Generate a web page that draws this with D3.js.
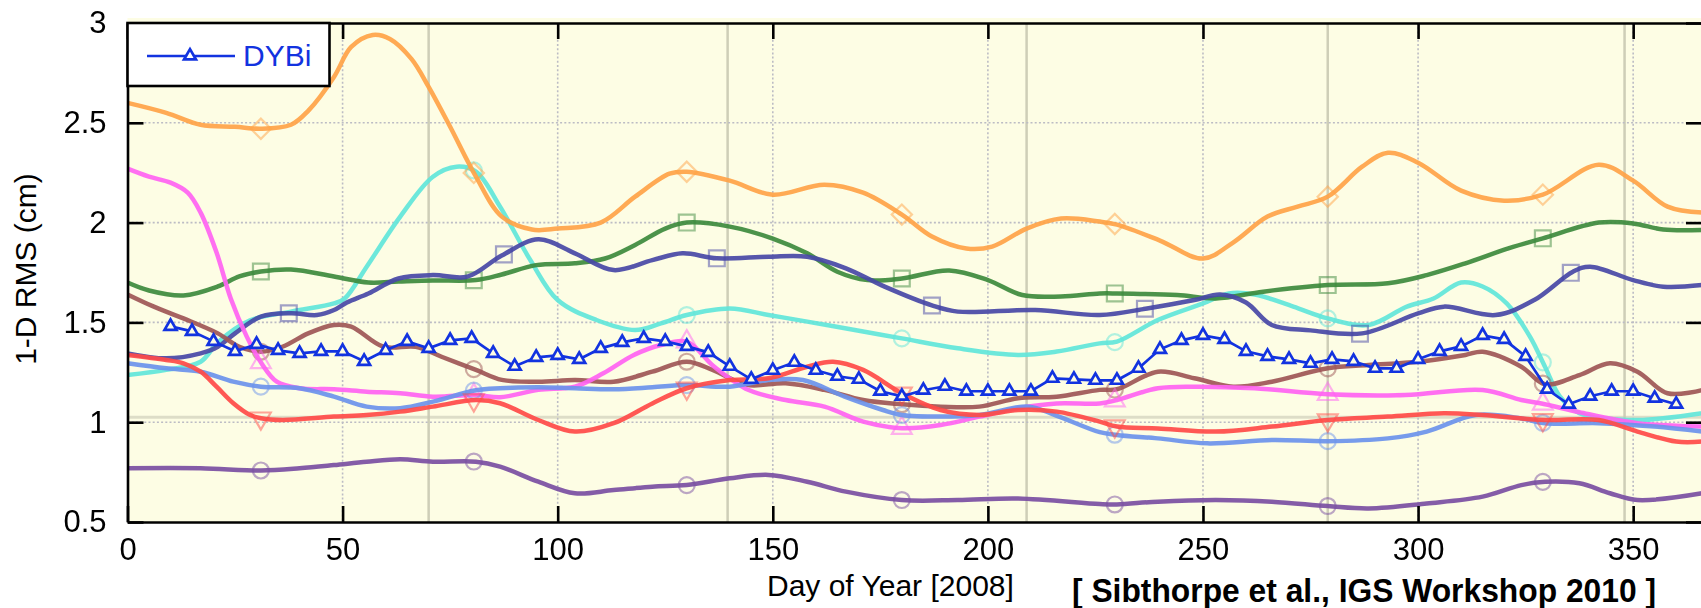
<!DOCTYPE html>
<html>
<head>
<meta charset="utf-8">
<script src="https://cdn.jsdelivr.net/npm/d3@7"></script>
<style>
body { margin: 0; background: #fff; }
svg { display: block; font-family: "Liberation Sans", Arial, Helvetica, sans-serif; }
</style>
</head>
<body>
<svg id="chart" width="1701" height="608"></svg>
<script>
(function () {

// ---- data ---------------------------------------------------------------------------------

var xTicks = [0, 50, 100, 150, 200, 250, 300, 350];
var yTicks = [0.5, 1, 1.5, 2, 2.5, 3];
var solidDays = [70, 139.5, 209, 279, 348];          // the grey vertical bars
var markDays = [31, 80.5, 130, 180, 229.5, 279, 329];
var markDaysLate = [37.5, 87.5, 137, 187, 236.5, 286.5, 335.5];
var markDaysCyan = [80.5, 130, 180, 229.5, 279, 329];

var dybiDays = [10, 15, 20, 25, 30, 35, 40, 45, 50, 55, 60, 65, 70, 75, 80, 85, 90, 95, 100,
	105, 110, 115, 120, 125, 130, 135, 140, 145, 150, 155, 160, 165, 170, 175, 180, 185, 190,
	195, 200, 205, 210, 215, 220, 225, 230, 235, 240, 245, 250, 255, 260, 265, 270, 275, 280,
	285, 290, 295, 300, 305, 310, 315, 320, 325, 330, 335, 340, 345, 350, 355, 360];
var dybiRms = [1.48, 1.455, 1.405, 1.355, 1.39, 1.36, 1.345, 1.355, 1.355, 1.305, 1.36, 1.405,
	1.37, 1.41, 1.42, 1.345, 1.28, 1.325, 1.335, 1.315, 1.37, 1.40, 1.42, 1.405, 1.38, 1.35,
	1.28, 1.215, 1.26, 1.30, 1.26, 1.23, 1.215, 1.155, 1.13, 1.16, 1.18, 1.155, 1.155, 1.155,
	1.155, 1.22, 1.215, 1.21, 1.21, 1.27, 1.365, 1.41, 1.435, 1.415, 1.355, 1.33, 1.315, 1.295,
	1.315, 1.305, 1.27, 1.27, 1.315, 1.355, 1.38, 1.435, 1.415, 1.33, 1.165, 1.09, 1.13, 1.155,
	1.155, 1.12, 1.09];

// the other stations, [day, rms]
var orangeRms = [[0,2.6],[9,2.55],[17,2.49],[25,2.48],[31,2.47],[38,2.49],[42,2.56],[48,2.73],
	[52,2.88],[57,2.94],[61,2.92],[66,2.82],[70,2.68],[75,2.48],[81,2.23],[87,2.03],[94,1.965],
	[100,1.97],[110,2.0],[118,2.13],[126,2.245],[130,2.255],[140,2.21],[150,2.14],[162,2.19],
	[171,2.15],[180,2.04],[187,1.93],[195,1.87],[201,1.88],[209,1.97],[217,2.02],[226,2.005],
	[230,1.99],[240,1.91],[250,1.82],[257,1.9],[265,2.03],[272,2.08],[279,2.13],[287,2.28],
	[293,2.35],[300,2.3],[310,2.16],[320,2.11],[329,2.14],[342,2.29],[350,2.21],[358,2.08],[366,2.05]];
var greenRms = [[0,1.70],[5,1.66],[13,1.635],[21,1.68],[26,1.73],[31,1.755],[38,1.765],[48,1.73],
	[56,1.70],[63,1.705],[71,1.71],[81,1.712],[87,1.74],[95,1.787],[104,1.796],[111,1.82],
	[118,1.888],[125,1.97],[130,2.0],[140,1.98],[150,1.92],[158,1.846],[165,1.754],[172,1.712],
	[180,1.72],[191,1.76],[200,1.712],[208,1.637],[217,1.63],[226,1.645],[230,1.645],[244,1.637],
	[253,1.62],[264,1.654],[279,1.687],[293,1.696],[302,1.737],[311,1.796],[321,1.871],[329,1.921],
	[342,2.0],[350,1.996],[357,1.965],[366,1.963]];
var indigoRms = [[0,1.345],[9,1.32],[17,1.345],[21,1.378],[25,1.445],[31,1.529],[38,1.546],
	[44,1.537],[48,1.562],[51,1.6],[56,1.645],[63,1.72],[71,1.737],[79,1.729],[87,1.835],
	[95.5,1.916],[104,1.846],[113,1.762],[122,1.812],[129,1.846],[137,1.821],[149,1.829],
	[158,1.829],[167,1.771],[176,1.679],[187,1.585],[193,1.554],[211,1.562],[226,1.537],
	[237,1.57],[248,1.612],[254,1.64],[260,1.60],[266,1.487],[275,1.46],[287,1.445],[300,1.545],
	[306,1.579],[318,1.537],[327,1.612],[336,1.754],[340,1.779],[350,1.712],[357,1.679],[366,1.687]];
var cyanRms = [[0,1.237],[9,1.262],[17,1.303],[21,1.40],[28.5,1.51],[38,1.554],[48,1.595],
	[50.5,1.62],[55.6,1.779],[63.4,2.03],[71,2.23],[76.5,2.28],[81,2.255],[86.6,2.08],[93.7,1.81],
	[100,1.612],[109,1.512],[118,1.462],[124,1.495],[130,1.537],[140,1.57],[149,1.537],[158,1.504],
	[171,1.454],[180,1.42],[193,1.37],[207,1.337],[216,1.354],[226,1.395],[230,1.404],[239.5,1.512],
	[250,1.595],[256,1.645],[262,1.64],[271,1.579],[279,1.52],[288.5,1.487],[297.4,1.579],
	[303.6,1.62],[310,1.7],[315,1.68],[320.6,1.595],[326,1.429],[329.5,1.278],[333,1.128],
	[337.5,1.045],[351,1.011],[366,1.045]];
var brownRms = [[0,1.64],[6,1.58],[13,1.52],[21,1.445],[26,1.378],[31,1.353],[36,1.378],[42,1.445],
	[48,1.487],[52,1.479],[59.5,1.378],[67,1.378],[73,1.328],[81,1.262],[87,1.212],[95.5,1.203],
	[104,1.211],[113,1.203],[122,1.253],[130,1.303],[136,1.262],[144,1.187],[153,1.195],[162,1.162],
	[171,1.111],[180,1.09],[189,1.078],[198,1.078],[207,1.12],[216,1.128],[226,1.162],[230,1.165],
	[239.5,1.253],[248,1.22],[257,1.178],[266,1.203],[279,1.27],[288.5,1.286],[300,1.303],
	[311,1.337],[315,1.353],[324,1.278],[329.5,1.19],[337.5,1.236],[344.6,1.295],[351,1.253],
	[358,1.145],[366,1.161]];
var magentaRms = [[0,2.27],[5,2.23],[10,2.2],[14,2.15],[17,2.05],[20.7,1.85],[24,1.62],[27.7,1.43],
	[31,1.3],[34.7,1.203],[40,1.17],[48,1.165],[55.6,1.153],[63.4,1.145],[71,1.128],[81,1.136],
	[86.6,1.125],[95.5,1.162],[104,1.178],[110.6,1.245],[117.7,1.337],[124,1.387],[130,1.404],
	[136.4,1.278],[144.4,1.161],[153,1.111],[162,1.078],[171,1.003],[180,0.97],[189,0.986],
	[198,1.028],[207,1.07],[216,1.094],[226,1.094],[230,1.111],[239.5,1.17],[248,1.178],[262,1.17],
	[279,1.14],[297,1.136],[315,1.161],[324,1.111],[329.5,1.09],[337.5,1.05],[351,0.995],[366,0.978]];
var lightBlueRms = [[0,1.295],[9,1.27],[17,1.253],[24.6,1.203],[31,1.178],[40,1.17],[48,1.128],
	[55.6,1.078],[63.4,1.07],[71,1.103],[81,1.16],[86.6,1.17],[95.5,1.175],[104,1.17],[113,1.165],
	[122,1.175],[130,1.186],[140,1.178],[149,1.211],[157,1.211],[166.7,1.128],[175.6,1.061],
	[180,1.036],[189,1.028],[198,1.036],[209.4,1.078],[215.6,1.036],[226,0.95],[230,0.936],
	[239.5,0.919],[251,0.894],[266,0.911],[279,0.905],[293,0.919],[302,0.953],[313.4,1.036],
	[324,1.019],[329.5,0.995],[342,0.995],[355,0.978],[366,0.953]];
var redRms = [[0,1.337],[9,1.312],[13,1.295],[17,1.253],[20.7,1.178],[24.6,1.095],[28.5,1.036],
	[31,1.02],[36,1.011],[48,1.028],[55.6,1.036],[63.4,1.053],[71,1.078],[81,1.111],[86.6,1.095],
	[95.5,1.011],[104,0.953],[113,0.995],[122,1.094],[130,1.17],[140,1.211],[149,1.22],[158,1.278],
	[164,1.303],[171,1.262],[180,1.145],[189,1.061],[198,1.036],[207,1.061],[216,1.053],[226,1.003],
	[230,0.978],[239.5,0.969],[253,0.953],[266,0.978],[279,1.011],[293,1.028],[306,1.045],[315,1.036],
	[329.5,1.011],[342,1.011],[351,0.953],[360,0.903],[366,0.903]];
var purpleRms = [[0,0.769],[17,0.769],[31,0.758],[40,0.769],[48,0.785],[55.6,0.802],[63.4,0.814],
	[71,0.802],[81,0.802],[86.6,0.777],[95.5,0.702],[104,0.644],[113,0.66],[122,0.677],[130,0.685],
	[140,0.719],[149,0.736],[158,0.702],[167,0.652],[180,0.61],[193,0.61],[207,0.618],[226,0.59],
	[230,0.588],[239.5,0.602],[253,0.61],[266,0.602],[279,0.58],[288.5,0.568],[302,0.593],
	[315,0.627],[324,0.685],[329.5,0.702],[337.5,0.694],[344.6,0.644],[351,0.61],[366,0.644]];

// ---- setup ---------------------------------------------------------------------------------

var bgSeries = [
	{ data: cyanRms,      color: '#62e6da', shape: 'circle',   marks: markDaysCyan },
	{ data: orangeRms,    color: '#ffa347', shape: 'diamond',  marks: markDays },
	{ data: greenRms,     color: '#3c8a3c', shape: 'square',   marks: markDays },
	{ data: indigoRms,    color: '#4646a6', shape: 'square',   marks: markDaysLate },
	{ data: brownRms,     color: '#9e5656', shape: 'circle',   marks: markDays },
	{ data: magentaRms,   color: '#ff63f2', shape: 'triangle', marks: markDays },
	{ data: lightBlueRms, color: '#6b93ec', shape: 'circle',   marks: markDays },
	{ data: redRms,       color: '#ff4a47', shape: 'down',     marks: markDays },
	{ data: purpleRms,    color: '#7a4ea2', shape: 'circle',   marks: markDays }
];

var plot = { left: 127.5, right: 1702, top: 23, bottom: 522 };
var blue = '#1233e0';

var svg = d3.select('#chart');

var x = d3.scaleLinear().domain([0, 366]).range([plot.left, plot.right]);
var y = d3.scaleLinear().domain([0.5, 3]).range([plot.bottom, plot.top]);

var defs = svg.append('defs');
defs.append('clipPath').attr('id', 'plotclip').append('rect')
	.attr('x', plot.left).attr('y', plot.top)
	.attr('width', plot.right - plot.left).attr('height', plot.bottom - plot.top);
defs.append('filter').attr('id', 'soft').attr('x', '-5%').attr('y', '-5%').attr('width', '110%').attr('height', '110%')
	.append('feGaussianBlur').attr('stdDeviation', 0.7);

// background
svg.append('rect')
	.attr('x', plot.left).attr('y', plot.top - 5)
	.attr('width', plot.right - plot.left).attr('height', plot.bottom - plot.top + 5)
	.attr('fill', '#fdfde4');

var body = svg.append('g').attr('clip-path', 'url(#plotclip)');

// grey bars and the faint band near 1 cm
body.selectAll('.bar').data(solidDays).enter().append('line')
	.attr('x1', function (d) { return x(d); }).attr('x2', function (d) { return x(d); })
	.attr('y1', plot.top).attr('y2', plot.bottom)
	.attr('stroke', '#b9b9a4').attr('stroke-opacity', 0.7).attr('stroke-width', 2.5);
body.append('line')
	.attr('x1', plot.left).attr('x2', plot.right)
	.attr('y1', y(1.025)).attr('y2', y(1.025))
	.attr('stroke', '#c8c8b4').attr('stroke-opacity', 0.6).attr('stroke-width', 3);

// dotted grid
body.selectAll('.vgrid').data(xTicks.slice(1)).enter().append('line')
	.attr('x1', function (d) { return x(d); }).attr('x2', function (d) { return x(d); })
	.attr('y1', plot.top).attr('y2', plot.bottom)
	.attr('stroke', '#bcbcc4').attr('stroke-width', 1.6).attr('stroke-dasharray', '2,2.2');
body.selectAll('.hgrid').data(yTicks.slice(1, -1)).enter().append('line')
	.attr('x1', plot.left).attr('x2', plot.right)
	.attr('y1', function (d) { return y(d); }).attr('y2', function (d) { return y(d); })
	.attr('stroke', '#bcbcc4').attr('stroke-width', 1.6).attr('stroke-dasharray', '2,2.2');

// other stations
var curve = d3.line()
	.x(function (d) { return x(d[0]); })
	.y(function (d) { return y(d[1]); })
	.curve(d3.curveCatmullRom.alpha(0.5));

function pointAtX(node, px) {
	var lo = 0, hi = node.getTotalLength();
	for (var i = 0; i < 32; i++) {
		var mid = (lo + hi) / 2;
		if (node.getPointAtLength(mid).x < px) lo = mid; else hi = mid;
	}
	return node.getPointAtLength((lo + hi) / 2);
}

var shapes = {
	circle:   { type: d3.symbolCircle,   size: 200, rot: 0 },
	square:   { type: d3.symbolSquare,   size: 250, rot: 0 },
	diamond:  { type: d3.symbolSquare,   size: 205, rot: 45 },
	triangle: { type: d3.symbolTriangle, size: 170, rot: 0 },
	down:     { type: d3.symbolTriangle, size: 170, rot: 180 }
};

bgSeries.forEach(function (s) {
	var g = body.append('g').attr('filter', 'url(#soft)');
	var path = g.append('path')
		.attr('d', curve(s.data))
		.attr('fill', 'none')
		.attr('stroke', s.color)
		.attr('stroke-width', 4.5)
		.attr('stroke-opacity', 0.92)
		.attr('stroke-linejoin', 'round');

	var sh = shapes[s.shape];
	var sym = d3.symbol().type(sh.type).size(sh.size);
	s.marks.forEach(function (day) {
		var p = pointAtX(path.node(), x(day));
		g.append('path')
			.attr('d', sym())
			.attr('transform', 'translate(' + p.x + ',' + p.y + ') rotate(' + sh.rot + ')')
			.attr('fill', 'none')
			.attr('stroke', s.color)
			.attr('stroke-opacity', 0.5)
			.attr('stroke-width', 2.2);
	});
});

// DYBi
var dybi = dybiDays.map(function (d, i) { return [d, dybiRms[i]]; });
var tri = d3.symbol().type(d3.symbolTriangle).size(62);

body.append('path')
	.attr('d', d3.line().x(function (d) { return x(d[0]); }).y(function (d) { return y(d[1]); })(dybi))
	.attr('fill', 'none').attr('stroke', blue).attr('stroke-width', 2.7);

body.selectAll('.dybi').data(dybi).enter().append('path')
	.attr('class', 'dybi')
	.attr('d', tri)
	.attr('transform', function (d) { return 'translate(' + x(d[0]) + ',' + y(d[1]) + ')'; })
	.attr('fill', '#fdfde4').attr('stroke', blue).attr('stroke-width', 2.7);

// axes
function styleAxis(g) {
	g.selectAll('.domain').attr('stroke', '#000').attr('stroke-width', 2.6);
	g.selectAll('.tick line').attr('stroke', '#000').attr('stroke-width', 2.6);
	g.selectAll('.tick text').attr('fill', '#000').attr('font-size', 31)
		.attr('font-family', '"Liberation Sans", Arial, sans-serif');
}

svg.append('g').attr('transform', 'translate(0,' + plot.bottom + ')')
	.call(d3.axisBottom(x).tickValues(xTicks).tickSize(-16).tickSizeOuter(0).tickPadding(16).tickFormat(d3.format('d')))
	.call(styleAxis);
svg.append('g').attr('transform', 'translate(0,' + plot.top + ')')
	.call(d3.axisTop(x).tickValues(xTicks).tickSize(-16).tickSizeOuter(0).tickFormat(''))
	.call(styleAxis);
svg.append('g').attr('transform', 'translate(' + plot.left + ',0)')
	.call(d3.axisLeft(y).tickValues(yTicks).tickSize(-16).tickSizeOuter(0).tickPadding(21).tickFormat(String))
	.call(styleAxis);
svg.append('g').attr('transform', 'translate(' + plot.right + ',0)')
	.call(d3.axisRight(y).tickValues(yTicks).tickSize(-16).tickSizeOuter(0).tickFormat(''))
	.call(styleAxis);

// legend
var legend = svg.append('g');
legend.append('rect')
	.attr('x', plot.left).attr('y', plot.top)
	.attr('width', 202).attr('height', 63)
	.attr('fill', '#fff').attr('stroke', '#000').attr('stroke-width', 2.6);
legend.append('line')
	.attr('x1', 147).attr('x2', 235).attr('y1', 56).attr('y2', 56)
	.attr('stroke', blue).attr('stroke-width', 2.7);
legend.append('path')
	.attr('d', tri)
	.attr('transform', 'translate(190,56)')
	.attr('fill', '#fff').attr('stroke', blue).attr('stroke-width', 2.7);
legend.append('text')
	.attr('x', 243).attr('y', 66)
	.attr('font-size', 30).attr('fill', blue)
	.text('DYBi');

// titles
svg.append('text')
	.attr('transform', 'translate(36,269) rotate(-90)')
	.attr('text-anchor', 'middle')
	.attr('font-size', 30)
	.text('1-D RMS (cm)');

svg.append('text')
	.attr('x', 767).attr('y', 596)
	.attr('font-size', 30)
	.text('Day of Year [2008]');

svg.append('text')
	.attr('x', 1072).attr('y', 602)
	.attr('font-size', 33).attr('font-weight', 'bold')
	.attr('textLength', 584).attr('lengthAdjust', 'spacingAndGlyphs')
	.text('[ Sibthorpe et al., IGS Workshop 2010 ]');

})();
</script>
</body>
</html>
